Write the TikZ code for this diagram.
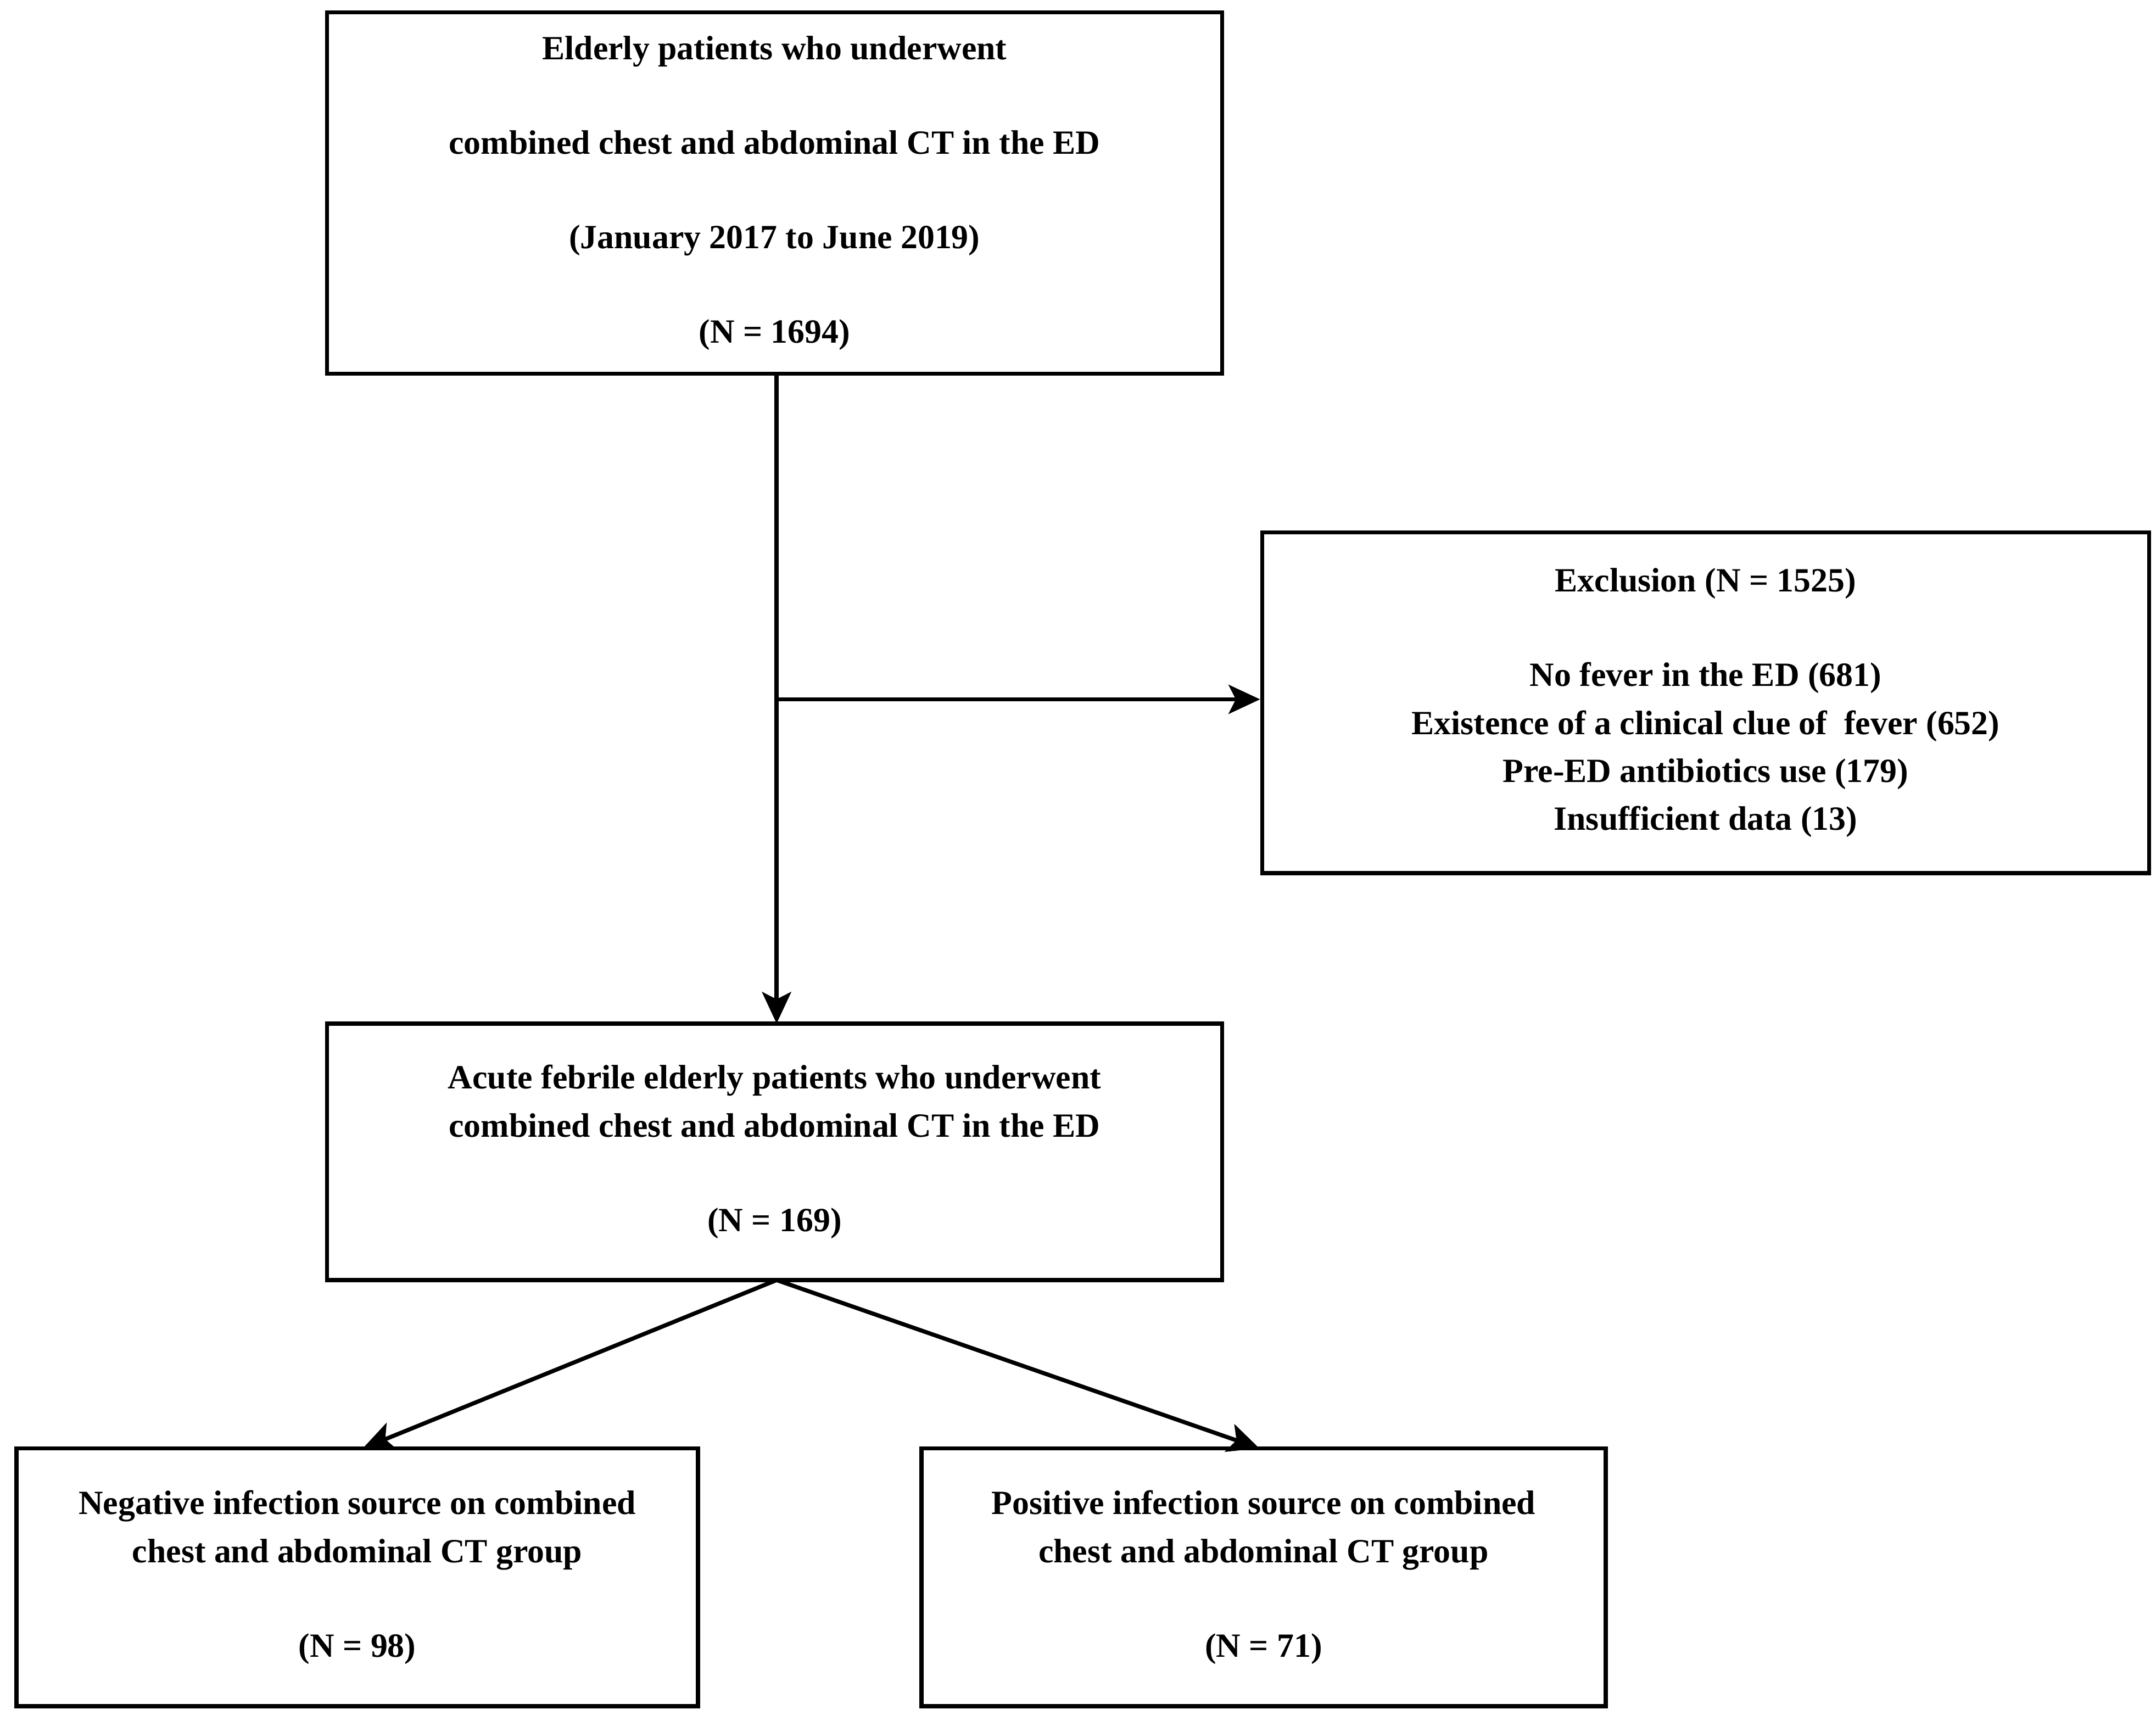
\documentclass[tikz,border=0pt]{standalone}
\usepackage{fontspec}
\setmainfont{Liberation Serif}
\usetikzlibrary{arrows.meta}
\begin{document}
\begin{tikzpicture}[x=0.02cm,y=-0.02cm,
  box/.style={draw,line width=1.7pt,rectangle,align=center,inner sep=0pt,
    font=\fontsize{14}{19.8}\selectfont\bfseries},
  conn/.style={line width=1.7pt,-{Stealth[length=13pt,width=12pt,inset=3pt]}}]
\useasboundingbox (0,0) rectangle (1563,1243);
\node[box,minimum width=649*0.02cm,minimum height=262*0.02cm] (a) at (561.5,140)
 {Elderly patients who underwent\\[19.2pt] combined chest and abdominal CT in the ED\\[19.2pt] (January 2017 to June 2019)\\[19.2pt] (N = 1694)};
\node[box,minimum width=643*0.02cm,minimum height=247*0.02cm] (e) at (1236.5,509.5)
 {Exclusion (N = 1525)\\[19.2pt] No fever in the ED (681)\\ Existence of a clinical clue of\ \ fever (652)\\ Pre-ED antibiotics use (179)\\ Insufficient data (13)};
\node[box,minimum width=649*0.02cm,minimum height=186*0.02cm] (b) at (561.5,835)
 {Acute febrile elderly patients who underwent\\ combined chest and abdominal CT in the ED\\[19.2pt] (N = 169)};
\node[box,minimum width=494*0.02cm,minimum height=187*0.02cm] (n) at (259,1143.5)
 {Negative infection source on combined\\ chest and abdominal CT group\\[19.2pt] (N = 98)};
\node[box,minimum width=496*0.02cm,minimum height=187*0.02cm] (p) at (916,1143.5)
 {Positive infection source on combined\\ chest and abdominal CT group\\[19.2pt] (N = 71)};
\coordinate (j) at (563,507);
\coordinate (t) at (563,271);
\coordinate (bt) at (563,742);
\coordinate (bb) at (563,928);
\draw[line width=1.7pt] (t) -- (j);
\draw[conn] (j) -- (bt);
\draw[conn] (j) -- (e.west|-j);
\draw[conn] (bb) -- (263,1050) coordinate (nt);
\draw[conn] (bb) -- (913,1050) coordinate (pt);
\end{tikzpicture}
\end{document}
